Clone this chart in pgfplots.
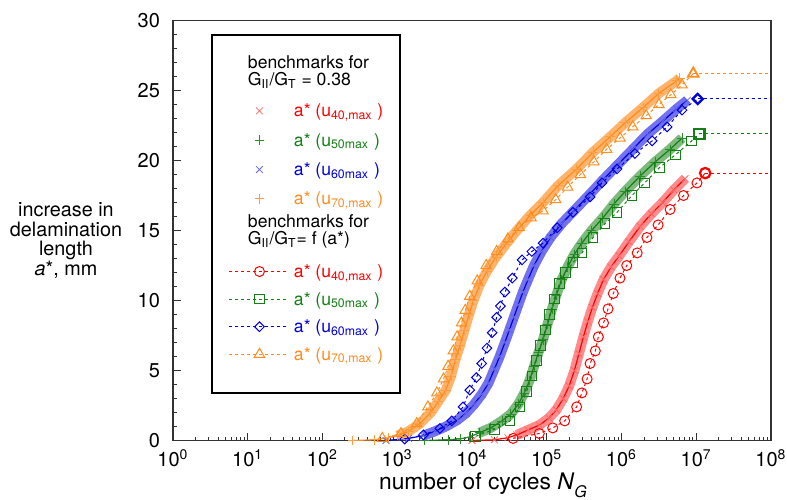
\documentclass[border=0pt]{standalone}
\usepackage{pgfplots}
\pgfplotsset{compat=1.18}
\usepackage{pgfplotstable}
\usepackage{fontspec}
\setmainfont{TeX Gyre Heros}

\definecolor{cred}{RGB}{255,0,0}
\definecolor{cgreen}{RGB}{20,128,20}
\definecolor{cblue}{RGB}{0,0,225}
\definecolor{corange}{RGB}{255,140,30}

\pgfplotsset{mylegend/.style={legend image code/.code={\draw[mark repeat=2,mark phase=2,##1] plot coordinates {(0pt,0pt) (15pt,0pt) (30pt,0pt)};}}}

% benchmarks G_II/G_T = 0.38
\pgfplotstableread{
N y
251 0.0
501 0.05
759 0.2
1000 0.35
1413 0.65
1995 1.2
2818 2.0
3548 2.8
4467 3.6
5248 4.6
6026 5.8
6918 6.8
7943 7.9
9120 9.0
10470 10.0
12590 11.1
15850 12.1
20890 13.1
28180 14.0
39810 15.0
60260 16.1
89130 17.0
141300 18.2
251200 19.4
416900 20.6
707900 21.7
1122000 22.7
1950000 23.8
3162000 24.8
5495000 25.7
6026000 25.9
}\bOrange

\pgfplotstableread{
N y
708 0.0
1413 0.15
2239 0.35
3162 0.65
4467 1.0
6310 1.45
8318 1.95
10720 2.6
13490 3.3
16600 4.1
19950 5.1
23440 6.0
27540 7.0
31620 7.9
36310 8.8
41690 9.7
47860 10.6
56230 11.5
67610 12.5
85110 13.5
112200 14.5
158500 15.5
239900 16.5
363100 17.5
562300 18.6
891300 19.7
1413000 20.8
2239000 21.9
3548000 22.8
5495000 23.7
7586000 24.3
}\bBlue

\pgfplotstableread{
N y
2291 0.0
4786 0.05
7079 0.12
9120 0.25
12590 0.55
17780 0.9
25120 1.4
33110 1.9
41690 2.6
50120 3.4
58880 4.3
67610 5.3
77620 6.3
89130 7.2
102300 8.3
117500 9.4
134900 10.4
158500 11.5
190500 12.4
234400 13.3
295100 14.1
398100 15.0
562300 15.9
794300 16.9
1122000 17.8
1778000 18.9
2818000 19.9
4467000 20.8
6457000 21.6
}\bGreen

\pgfplotstableread{
N y
10000 0.0
19950 0.05
30200 0.2
39810 0.4
56230 0.75
79430 1.1
107200 1.6
134900 2.2
166000 3.0
199500 3.9
234400 5.0
269200 6.2
309000 7.4
354800 8.5
407400 9.5
478600 10.5
575400 11.5
724400 12.4
933300 13.2
1259000 14.2
1778000 15.3
2512000 16.2
3548000 17.0
5012000 17.9
7079000 18.7
}\bRed

% benchmarks G_II/G_T = f(a*)
\pgfplotstableread{
N y
631 0.15
1122 0.5
1820 1.2
2570 2.4
3388 3.4
4169 4.4
4786 5.3
5623 6.4
6310 7.4
7244 8.4
8128 9.3
9333 10.3
11750 11.4
15490 12.5
21380 13.5
30200 14.4
42660 15.2
61660 15.9
89130 16.4
131800 17.2
190500 18.1
281800 19.0
426600 19.9
631000 20.8
955000 21.6
1413000 22.4
2138000 23.2
3162000 24.0
4571000 24.7
6457000 25.4
9120000 26.2
}\dOrange

\pgfplotstableread{
N y
1259 0.1
2239 0.4
3715 0.86
5370 1.4
7586 2.4
9333 3.6
11480 4.5
13490 5.5
15850 6.6
18620 7.7
21380 8.8
23990 9.6
27540 10.6
34670 11.6
46770 12.9
63100 13.5
89130 14.1
138000 15.2
223900 16.3
380200 17.4
549500 18.4
871000 19.4
1514000 20.5
2570000 21.4
4074000 22.4
6457000 23.6
10470000 24.4
}\dBlue

\pgfplotstableread{
N y
11220 0.3
19950 0.8
32360 1.4
43650 2.4
53700 3.5
63100 4.6
72440 5.7
83180 6.8
95500 7.9
109600 9.0
125900 10.1
147900 11.2
177800 12.0
223900 12.7
295100 13.4
416900 14.5
602600 15.5
871000 16.3
1380000 17.5
2042000 18.4
3236000 19.5
5248000 20.4
8710000 21.4
10960000 21.9
}\dGreen

\pgfplotstableread{
N y
35480 0.15
79430 0.5
120200 0.9
173800 1.4
251200 2.4
295100 3.4
346700 4.4
380200 5.5
446700 6.4
489800 7.4
575400 8.4
660700 9.4
776200 10.5
955000 11.6
1175000 12.5
1622000 13.4
2188000 14.5
3090000 15.4
4467000 16.5
6761000 17.5
10230000 18.4
13180000 19.1
}\dRed

\newcommand{\lhead}[4]{\raisebox{0pt}[#1][#2]{\hspace*{-23pt}\vtop{\baselineskip=8.65pt\lineskiplimit=-20pt\lineskip=0pt\hbox{#3}\hbox{#4}}}}
\newcommand{\lent}[3]{\raisebox{-3pt}[#1][#2]{#3}}

\begin{document}
\begin{tikzpicture}
\begin{axis}[
  at={(0pt,0pt)}, anchor=south west,
  scale only axis, width=299pt, height=210pt,
  xmode=log, xmin=1, xmax=1e8, ymin=0, ymax=30,
  xtick={1,10,100,1000,10000,100000,1000000,10000000,100000000},
  xticklabels={10\textsuperscript{0},10\textsuperscript{1},10\textsuperscript{2},10\textsuperscript{3},10\textsuperscript{4},10\textsuperscript{5},10\textsuperscript{6},10\textsuperscript{7},10\textsuperscript{8}},
  minor xtick={2,3,4,5,6,7,8,9,20,30,40,50,60,70,80,90,200,300,400,500,600,700,800,900,2000,3000,4000,5000,6000,7000,8000,9000,2e4,3e4,4e4,5e4,6e4,7e4,8e4,9e4,2e5,3e5,4e5,5e5,6e5,7e5,8e5,9e5,2e6,3e6,4e6,5e6,6e6,7e6,8e6,9e6,2e7,3e7,4e7,5e7,6e7,7e7,8e7,9e7},
  ytick={0,5,10,15,20,25,30},
  minor ytick={1,2,3,4,6,7,8,9,11,12,13,14,16,17,18,19,21,22,23,24,26,27,28,29},
  tick pos=left, tick align=inside,
  major tick length=4pt, minor tick length=2pt,
  axis line style={line width=0.9pt, black!80},
  every tick/.append style={line width=0.5pt, black!80},
  tick label style={font=\fontsize{10}{12}\selectfont},
  yticklabel style={xshift=-3pt},
  xticklabel style={yshift=-1pt},
  /pgf/number format/assume math mode=true,
  legend style={at={(0.0635,0.968)}, anchor=north west, draw=black, line width=1pt, fill=white,
    inner xsep=8.5pt, inner ysep=0pt, row sep=0pt, column sep=2pt,
    cells={anchor=base west}, nodes={inner sep=0pt, text depth={}, text height={}},
    font=\fontsize{8.8}{10}\selectfont},
]

\addlegendimage{empty legend}
\addlegendentry[anchor=base west, text=black]{\lhead{16.85pt}{13.8pt}{benchmarks for}{G\textsubscript{II}/G\textsubscript{T} = 0.38}}

% red benchmark
\addplot[forget plot, color=cred!45, line width=5pt, line join=round, restrict y to domain=0.3:30] table {\bRed};
\addplot[forget plot, color=cred, line width=0.6pt] table {\bRed};
\addplot[only marks, mark=x, mark size=2.4pt, color=cred!60, line width=0.4pt, mylegend] table {\bRed};
\addlegendentry[anchor=base west, text=cred]{\lent{7.33pt}{7.33pt}{a* (u\textsubscript{40,max} )}}

% green benchmark
\addplot[forget plot, color=cgreen!55, line width=5pt, line join=round, restrict y to domain=0.3:30] table {\bGreen};
\addplot[forget plot, color=cgreen, line width=0.6pt] table {\bGreen};
\addplot[only marks, mark=+, mark size=2.4pt, color=cgreen!90, line width=0.4pt, mylegend] table {\bGreen};
\addlegendentry[anchor=base west, text=cgreen]{\lent{7.33pt}{7.33pt}{a* (u\textsubscript{50max} )}}

% blue benchmark
\addplot[forget plot, color=cblue!55, line width=5pt, line join=round, restrict y to domain=0.3:30] table {\bBlue};
\addplot[forget plot, color=cblue, line width=0.6pt] table {\bBlue};
\addplot[only marks, mark=x, mark size=2.4pt, color=cblue!60, line width=0.4pt, mylegend] table {\bBlue};
\addlegendentry[anchor=base west, text=cblue]{\lent{7.33pt}{7.33pt}{a* (u\textsubscript{60max} )}}

% orange benchmark
\addplot[forget plot, color=corange!65, line width=5pt, line join=round, restrict y to domain=0.3:30] table {\bOrange};
\addplot[forget plot, color=corange, line width=0.6pt] table {\bOrange};
\addplot[only marks, mark=+, mark size=2.4pt, color=corange!85, line width=0.4pt, mylegend] table {\bOrange};
\addlegendentry[anchor=base west, text=corange]{\lent{7.33pt}{7.33pt}{a* (u\textsubscript{70,max} )}}

\addlegendimage{empty legend}
\addlegendentry[anchor=base west, text=black]{\lhead{7.0pt}{15.1pt}{benchmarks for}{G\textsubscript{II}/G\textsubscript{T}= f (a*)}}

% dashed series
\addplot[color=cred, line width=0.5pt, dash pattern=on 1.5pt off 1.5pt, mark=o, mark size=2.5pt, mark options={solid}, mylegend] table {\dRed};
\addlegendentry[anchor=base west, text=cred]{\lent{6.9pt}{6.9pt}{a* (u\textsubscript{40,max} )}}
\addplot[color=cgreen, line width=0.5pt, dash pattern=on 1.5pt off 1.5pt, mark=square, mark size=2.4pt, mark options={solid}, mylegend] table {\dGreen};
\addlegendentry[anchor=base west, text=cgreen]{\lent{6.9pt}{6.9pt}{a* (u\textsubscript{50max} )}}
\addplot[color=cblue, line width=0.5pt, dash pattern=on 1.5pt off 1.5pt, mark=square, mark size=1.7pt, mark options={solid, rotate=45}, mylegend] table {\dBlue};
\addlegendentry[anchor=base west, text=cblue]{\lent{6.9pt}{6.9pt}{a* (u\textsubscript{60max} )}}
\addplot[color=corange, line width=0.5pt, dash pattern=on 1.5pt off 1.5pt, mark=triangle, mark size=3pt, mark options={solid}, mylegend] table {\dOrange};
\addlegendentry[anchor=base west, text=corange]{\lent{6.9pt}{19.4pt}{a* (u\textsubscript{70,max} )}}

% horizontal continuations and final marks
\addplot[forget plot, color=cred, line width=0.5pt, dash pattern=on 1.5pt off 1.5pt] coordinates {(13180000,19.1) (100000000,19.1)};
\addplot[forget plot, color=cgreen, line width=0.5pt, dash pattern=on 1.5pt off 1.5pt] coordinates {(10960000,21.9) (100000000,21.9)};
\addplot[forget plot, color=cblue, line width=0.5pt, dash pattern=on 1.5pt off 1.5pt] coordinates {(10470000,24.4) (100000000,24.4)};
\addplot[forget plot, color=corange, line width=0.6pt, dash pattern=on 1.5pt off 1.5pt] coordinates {(9120000,26.2) (100000000,26.2)};
\addplot[forget plot, only marks, color=cred, mark=o, mark size=2.6pt, line width=1.1pt] coordinates {(13180000,19.1)};
\addplot[forget plot, only marks, color=cgreen, mark=square, mark size=2.6pt, line width=1.1pt] coordinates {(10960000,21.9)};
\addplot[forget plot, only marks, color=cblue, mark=square, mark size=1.8pt, mark options={rotate=45}, line width=1.1pt] coordinates {(10470000,24.4)};
\addplot[forget plot, only marks, color=corange, mark=triangle, mark size=3.1pt, line width=0.9pt] coordinates {(9120000,26.2)};
\end{axis}

\begin{scope}[font=\fontsize{9.9}{9.9}\selectfont]
\node[anchor=base, inner sep=0pt] at (-53.5pt,112.25pt) {increase in};
\node[anchor=base, inner sep=0pt] at (-53.5pt,102.25pt) {delamination};
\node[anchor=base, inner sep=0pt] at (-53.5pt,92.75pt) {length};
\node[anchor=base, inner sep=0pt] at (-53.5pt,82.75pt) {\textit{a}*, mm};
\end{scope}
\node[anchor=base, inner sep=0pt, font=\fontsize{11.4}{12}\selectfont] at (155pt,-24.25pt) {number of cycles \textit{N}\raisebox{-4pt}{\fontsize{8}{8}\selectfont\textit{G}}};

\pgfresetboundingbox
\path[use as bounding box] (-86.5pt,-29.25pt) rectangle (307pt,220.25pt);
\end{tikzpicture}
\end{document}
